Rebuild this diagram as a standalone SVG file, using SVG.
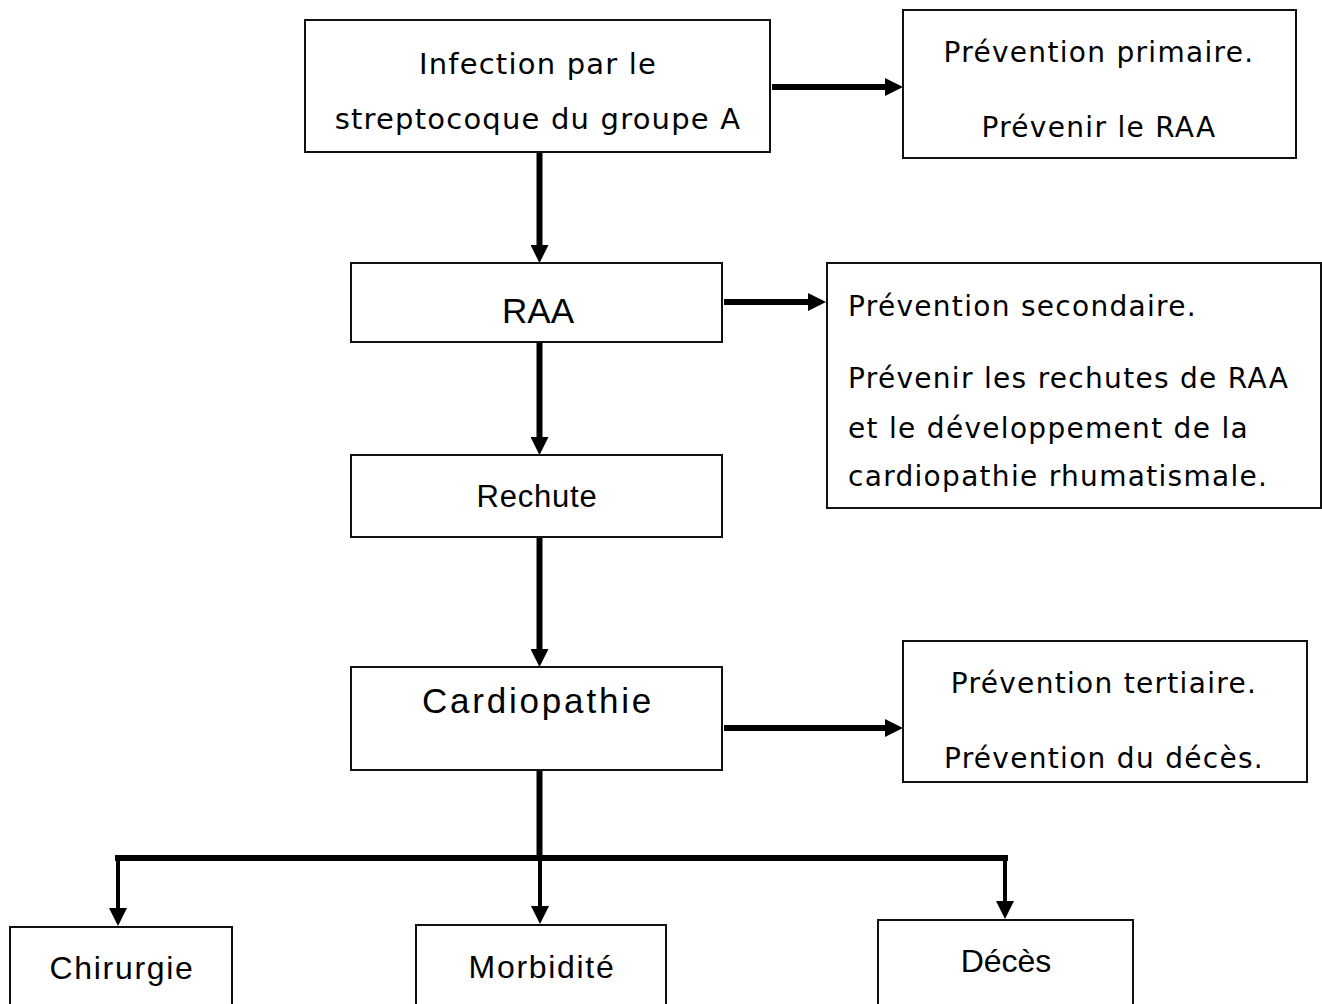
<svg xmlns="http://www.w3.org/2000/svg" width="1322" height="1004" viewBox="0 0 1322 1004">
<style>
  .box { fill: #ffffff; stroke: #111111; stroke-width: 2; }
  .t { font-family: "DejaVu Sans", Verdana, sans-serif; fill: #000000; }
  .t1 { font-size: 29px; letter-spacing: 1.2px; }
  .t2 { font-size: 28px; letter-spacing: 1.3px; }
  .a { font-family: "Liberation Sans", Arial, sans-serif; fill: #000000; }
  .c { text-anchor: middle; }
  .con { stroke: #000000; fill: none; stroke-width: 6; }
  .thin { stroke-width: 4; }
</style>
<defs>
  <marker id="ah" markerUnits="userSpaceOnUse" markerWidth="18" markerHeight="18" viewBox="0 0 18 18" refX="8" refY="9" orient="auto">
    <path d="M0,0 L18,9 L0,18 Z" fill="#000000"/>
  </marker>
</defs>
<rect width="1322" height="1004" fill="#ffffff"/>

<g id="connectors">
  <line class="con" x1="772" y1="87" x2="893" y2="87" marker-end="url(#ah)"/>
  <line class="con" x1="539.5" y1="152" x2="539.5" y2="253" marker-end="url(#ah)"/>
  <line class="con" x1="724" y1="302" x2="816" y2="302" marker-end="url(#ah)"/>
  <line class="con" x1="539.5" y1="342" x2="539.5" y2="445" marker-end="url(#ah)"/>
  <line class="con" x1="539.5" y1="537" x2="539.5" y2="657" marker-end="url(#ah)"/>
  <line class="con" x1="724" y1="728" x2="893" y2="728" marker-end="url(#ah)"/>
  <line class="con" x1="539.5" y1="770" x2="539.5" y2="858"/>
  <line class="con" x1="115" y1="858" x2="1008" y2="858"/>
  <line class="con thin" x1="118" y1="858" x2="118" y2="916" marker-end="url(#ah)"/>
  <line class="con thin" x1="540" y1="858" x2="540" y2="914" marker-end="url(#ah)"/>
  <line class="con thin" x1="1005" y1="858" x2="1005" y2="909" marker-end="url(#ah)"/>
</g>

<g id="infection">
  <rect class="box" x="305" y="20" width="465" height="132"/>
  <text class="t t1 c" x="538" y="74">Infection par le</text>
  <text class="t t1 c" x="538" y="129">streptocoque du groupe A</text>
</g>

<g id="prevention-primaire">
  <rect class="box" x="903" y="10" width="393" height="148"/>
  <text class="t t2 c" x="1099" y="62">Prévention primaire.</text>
  <text class="t t2 c" x="1099" y="137">Prévenir le RAA</text>
</g>

<g id="raa">
  <rect class="box" x="351" y="263" width="371" height="79"/>
  <text class="a c" x="538" y="323" font-size="35">RAA</text>
</g>

<g id="prevention-secondaire">
  <rect class="box" x="827" y="263" width="494" height="245"/>
  <text class="t t2" x="848" y="316">Prévention secondaire.</text>
  <text class="t t2" x="848" y="388">Prévenir les rechutes de RAA</text>
  <text class="t t2" x="848" y="438">et le développement de la</text>
  <text class="t t2" x="848" y="486">cardiopathie rhumatismale.</text>
</g>

<g id="rechute">
  <rect class="box" x="351" y="455" width="371" height="82"/>
  <text class="a c" x="537" y="507" font-size="31" letter-spacing="0.8">Rechute</text>
</g>

<g id="cardiopathie">
  <rect class="box" x="351" y="667" width="371" height="103"/>
  <text class="a c" x="538" y="713" font-size="35" letter-spacing="2.8">Cardiopathie</text>
</g>

<g id="prevention-tertiaire">
  <rect class="box" x="903" y="641" width="404" height="141"/>
  <text class="t t2 c" x="1104" y="693">Prévention tertiaire.</text>
  <text class="t t2 c" x="1104" y="768">Prévention du décès.</text>
</g>

<g id="chirurgie">
  <rect class="box" x="10" y="927" width="222" height="90"/>
  <text class="a c" x="122" y="979" font-size="32" letter-spacing="1.7">Chirurgie</text>
</g>

<g id="morbidite">
  <rect class="box" x="416" y="925" width="250" height="90"/>
  <text class="a c" x="542" y="978" font-size="32" letter-spacing="1.7">Morbidité</text>
</g>

<g id="deces">
  <rect class="box" x="878" y="920" width="255" height="95"/>
  <text class="a c" x="1006" y="972" font-size="32">Décès</text>
</g>
</svg>
